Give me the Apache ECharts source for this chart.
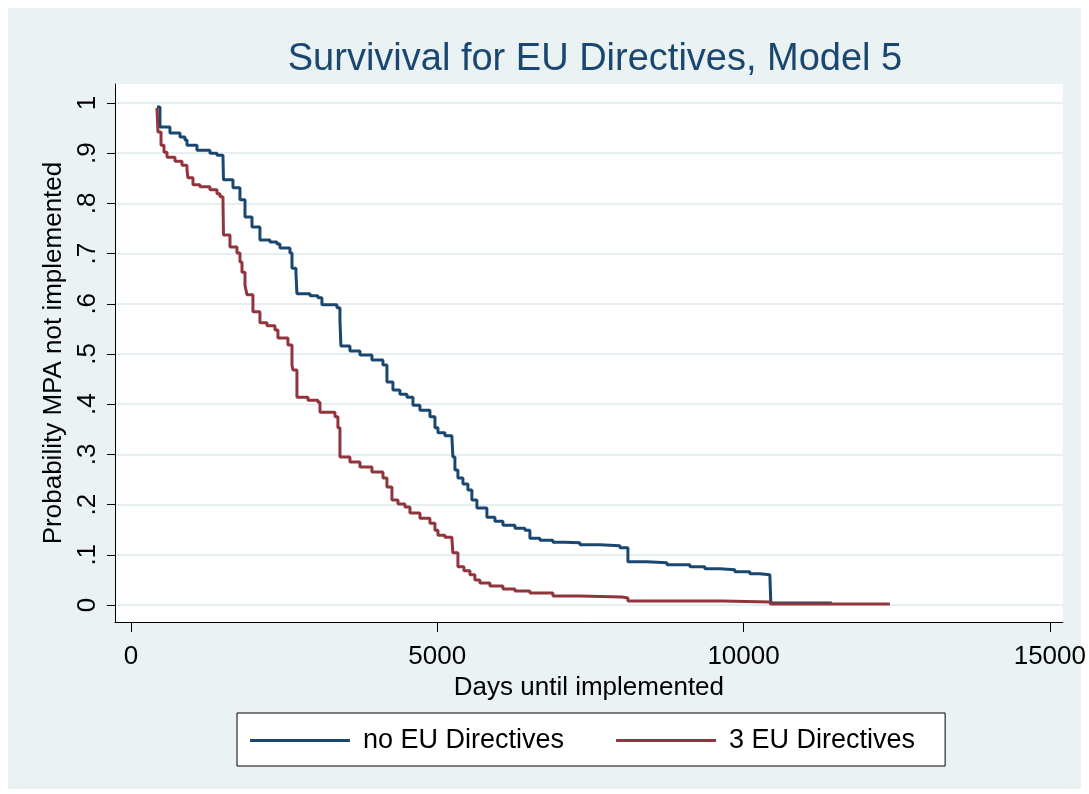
<!DOCTYPE html>
<html>
<head>
<meta charset="utf-8">
<title>Survival for EU Directives</title>
<script src="https://cdn.jsdelivr.net/npm/echarts@6/dist/echarts.min.js"></script>
<style>
  html, body { margin: 0; padding: 0; background: #fff; }
  #frame { position: absolute; left: 8px; top: 8px; width: 1073px; height: 781px; background: #eaf2f3; }
  #chart { position: absolute; left: 0; top: 0; width: 1089px; height: 794px; }
</style>
</head>
<body>
<div id="frame"></div>
<div id="chart"></div>
<script>
// days until implemented -> survival probability (step curves)
const noEuDays = [424, 473, 636, 800, 881, 914, 1077, 1289, 1404, 1502, 1510, 1665, 1779, 1861, 1975, 2105, 2269, 2383, 2432, 2595, 2628, 2693, 2709, 2922, 3052, 3117, 3362, 3411, 3427, 3574, 3738, 3933, 4113, 4178, 4276, 4390, 4505, 4603, 4717, 4880, 4962, 5011, 5125, 5239, 5255, 5288, 5337, 5419, 5500, 5565, 5647, 5810, 5941, 6072, 6268, 6431, 6512, 6676, 6888, 7084, 7329, 7655, 7982, 8112, 8422, 8749, 9124, 9368, 9613, 9858, 10103, 10266, 10429, 10445, 11441]
const noEuSurv = [0.992, 0.952, 0.940, 0.932, 0.926, 0.916, 0.906, 0.900, 0.896, 0.890, 0.847, 0.831, 0.807, 0.773, 0.753, 0.727, 0.723, 0.719, 0.711, 0.701, 0.671, 0.661, 0.620, 0.616, 0.612, 0.598, 0.592, 0.568, 0.516, 0.506, 0.498, 0.488, 0.478, 0.444, 0.428, 0.420, 0.414, 0.398, 0.388, 0.375, 0.353, 0.343, 0.337, 0.333, 0.295, 0.269, 0.253, 0.241, 0.229, 0.209, 0.193, 0.175, 0.167, 0.159, 0.153, 0.149, 0.133, 0.129, 0.125, 0.124, 0.120, 0.118, 0.114, 0.086, 0.084, 0.080, 0.076, 0.072, 0.070, 0.066, 0.062, 0.060, 0.058, 0.004, 0.004]

const eu3Days = [424, 441, 490, 539, 588, 718, 832, 914, 930, 1012, 1126, 1289, 1404, 1453, 1502, 1510, 1616, 1730, 1779, 1812, 1861, 1893, 1991, 2105, 2220, 2350, 2399, 2562, 2628, 2644, 2709, 2889, 3052, 3085, 3330, 3378, 3411, 3574, 3738, 3933, 4113, 4178, 4260, 4358, 4472, 4554, 4717, 4880, 4962, 5011, 5125, 5239, 5255, 5337, 5435, 5533, 5614, 5696, 5859, 6072, 6268, 6512, 6888, 7329, 8014, 8112, 8960, 9613, 9662, 10429, 10445, 12388]
const eu3Surv = [0.990, 0.942, 0.916, 0.902, 0.892, 0.884, 0.876, 0.867, 0.851, 0.837, 0.833, 0.827, 0.819, 0.813, 0.803, 0.737, 0.713, 0.701, 0.683, 0.663, 0.637, 0.618, 0.584, 0.562, 0.556, 0.548, 0.532, 0.518, 0.478, 0.468, 0.414, 0.408, 0.404, 0.384, 0.375, 0.353, 0.295, 0.285, 0.275, 0.265, 0.253, 0.235, 0.209, 0.201, 0.195, 0.183, 0.173, 0.163, 0.149, 0.139, 0.135, 0.131, 0.104, 0.076, 0.068, 0.060, 0.050, 0.044, 0.038, 0.032, 0.028, 0.024, 0.018, 0.016, 0.014, 0.008, 0.008, 0.008, 0.006, 0.004, 0.002, 0.002]

const xTicks = [0, 5000, 10000, 15000]
const yTicks = [0, 0.1, 0.2, 0.3, 0.4, 0.5, 0.6, 0.7, 0.8, 0.9, 1]

const FONT = "'Liberation Sans', Arial, sans-serif"

const zip = (xs, ys) => xs.map((x, i) => [x, ys[i]])

const chart = echarts.init(document.getElementById("chart"))

chart.setOption({
  animation: false,
  backgroundColor: "transparent",
  title: {
    text: "Survivival for EU Directives, Model 5",
    left: 590,
    textAlign: "center",
    top: 36,
    textStyle: {
      fontFamily: FONT,
      fontSize: 38,
      fontWeight: "normal",
      color: "#1a476f"
    }
  },
  grid: {
    left: 115,
    right: 26,
    top: 84,
    bottom: 172,
    show: true,
    backgroundColor: "#fff",
    borderWidth: 0
  },
  legend: {
    left: 237,
    top: 713,
    padding: [14, 30, 12, 13],
    itemGap: 52,
    itemWidth: 100,
    itemHeight: 3,
    icon: "rect",
    backgroundColor: "#fff",
    borderColor: "#000",
    borderWidth: 1,
    textStyle: {
      fontFamily: FONT,
      fontSize: 27,
      color: "#000",
      padding: [0, 0, 0, 8]
    },
    data: ["no EU Directives", "3 EU Directives"]
  },
  xAxis: {
    type: "value",
    min: -261,
    max: 15212,
    name: "Days until implemented",
    nameLocation: "middle",
    nameGap: 49,
    nameTextStyle: { fontFamily: FONT, fontSize: 26, color: "#000" },
    axisLine: { show: true, onZero: false, lineStyle: { color: "#000", width: 1 } },
    axisTick: { show: true, length: 10, customValues: xTicks, lineStyle: { color: "#000" } },
    axisLabel: {
      customValues: xTicks,
      margin: 22,
      fontFamily: FONT,
      fontSize: 26,
      color: "#000",
      formatter: v => String(v)
    },
    splitLine: { show: false }
  },
  yAxis: {
    type: "value",
    min: -0.0339,
    max: 1.0378,
    name: "Probability MPA not implemented",
    nameLocation: "middle",
    nameGap: 46,
    nameTextStyle: { fontFamily: FONT, fontSize: 26, color: "#000" },
    axisLine: { show: true, onZero: false, lineStyle: { color: "#000", width: 1 } },
    axisTick: { show: true, length: 8, customValues: yTicks, lineStyle: { color: "#000" } },
    axisLabel: {
      customValues: yTicks,
      rotate: 90,
      margin: 14,
      fontFamily: FONT,
      fontSize: 26,
      color: "#000",
      formatter: v => (v === 0 ? "0" : v === 1 ? "1" : String(v).replace("0.", "."))
    },
    splitLine: { show: true, lineStyle: { color: "#e6eef1", width: 2 } }
  },
  series: [
    {
      name: "no EU Directives",
      type: "line",
      step: "end",
      symbol: "none",
      lineStyle: { color: "#1a476f", width: 3 },
      itemStyle: { color: "#1a476f" },
      data: zip(noEuDays, noEuSurv)
    },
    {
      name: "3 EU Directives",
      type: "line",
      step: "end",
      symbol: "none",
      lineStyle: { color: "#90353b", width: 3 },
      itemStyle: { color: "#90353b" },
      data: zip(eu3Days, eu3Surv)
    }
  ]
})

window.addEventListener("resize", () => {
  chart && chart.resize()
})
</script>
</body>
</html>
